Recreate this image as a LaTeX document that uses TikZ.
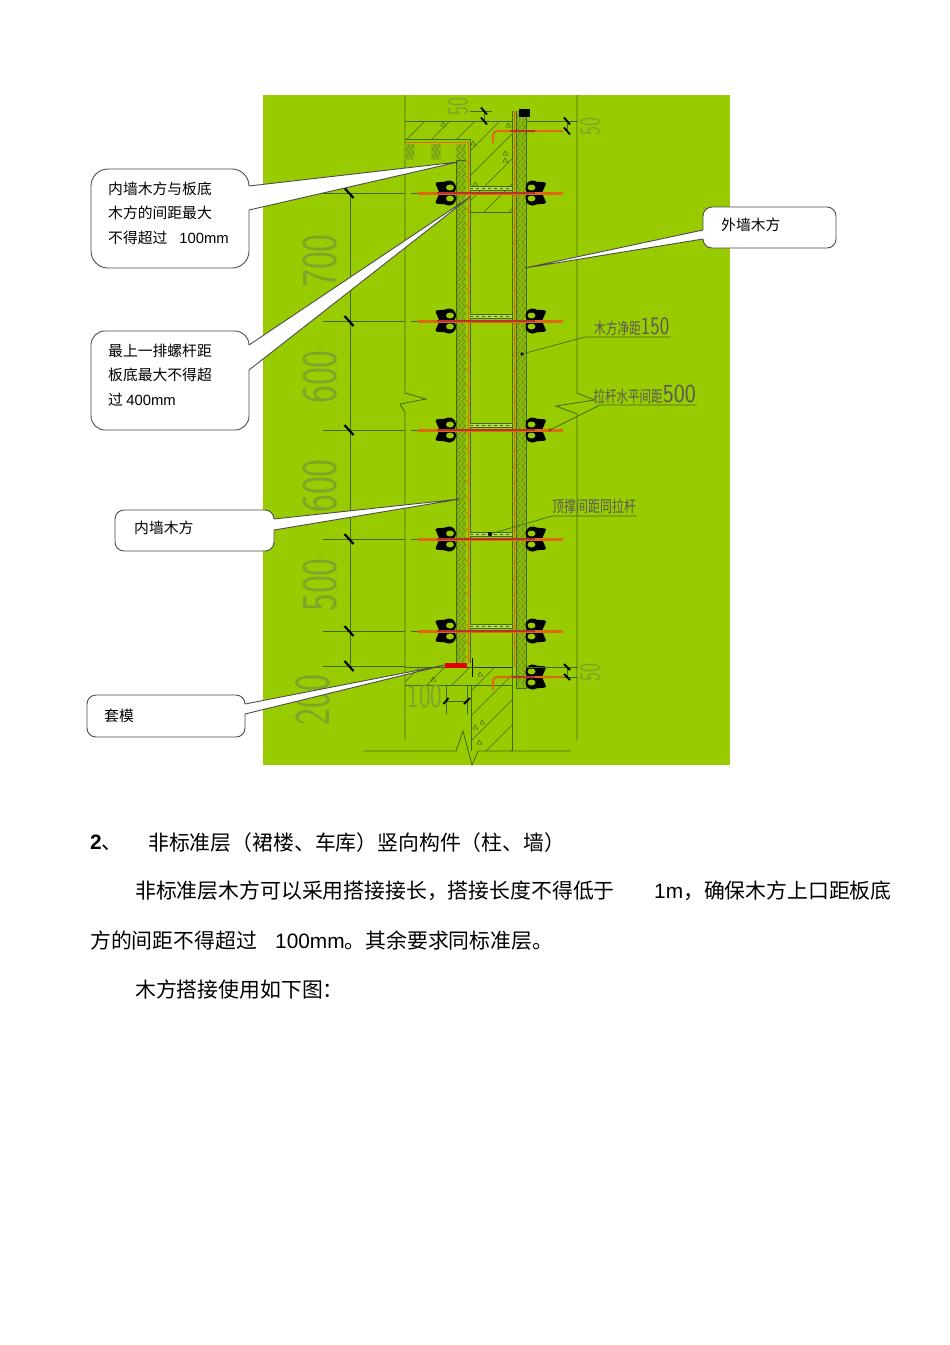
\documentclass[tikz,border=0pt]{standalone}
\usepackage{fontspec}
\setmainfont{Noto Sans CJK SC}
\newfontfamily\latinfont{Liberation Sans}
\usepackage{tikz}
\usetikzlibrary{calc}
\usetikzlibrary{positioning,decorations.pathmorphing}
\definecolor{boardgreen}{HTML}{99CC00}
\definecolor{woodgreen}{HTML}{8CBA0A}
\definecolor{woodline}{HTML}{4F7F14}
\definecolor{cadline}{HTML}{3E6A14}
\definecolor{dimtext}{HTML}{7CA52C}
\definecolor{rodorange}{HTML}{DE6A14}
\definecolor{rodred}{HTML}{B8322A}
\tikzset{
    cad/.style={draw=cadline,line width=0.8pt},
    woodzig/.style={draw=woodline,line width=0.4pt,decorate,decoration={zigzag,segment length=7pt,amplitude=2pt}},
    hatchline/.style={draw=cadline,line width=0.5pt},
    panel/.style={draw=rodorange,line width=1pt},
    tick/.style={draw=black,line width=2.2pt},
    callout/.style={draw=black!70,line width=0.9pt,fill=white},
    calloutlabel/.style={anchor=west,inner sep=0pt,align=left,font=\fontsize{14.8}{24.6}\selectfont},
    bodyline/.style={anchor=west,inner sep=0pt,font=\fontsize{20.85}{24}\selectfont},
    cadnote/.style={anchor=west,inner sep=0pt,text=black!65,font=\fontsize{16}{18}\selectfont}
}
\newcommand{\lt}[1]{{\latinfont #1}}
\newcommand{\dimtxt}[3]{\fontsize{#1}{#1}\selectfont\sffamily\scalebox{#2}[1]{#3}}
% x1 is the side that carries the tail
\newcommand{\callbox}[8]{
    \draw[callout,rounded corners=#1] (#2,#3) rectangle (#4,#5);
    \fill[white] (#2,#6) -- (#8) -- (#2,#7) -- cycle;
    \draw[white,line width=1.6pt] (#2,#6) -- (#2,#7);
    \draw[draw=black!70,line width=0.9pt] (#2,#6) -- (#8) -- (#2,#7);
}
\newcommand{\wingnut}[3]{
    \begin{scope}[shift={(#1,#2)},xscale=#3]
        \fill[black] (7,-5.5) circle (7) (7,5.5) circle (7);
        \fill[black,rounded corners=1.5pt] (9,-11.5) -- (21,-10.5) -- (16.5,0) -- (21,10.5) -- (9,11.5) -- cycle;
        \fill[boardgreen] (6,-5.5) ellipse (4 and 3) (6,5.5) ellipse (4 and 3);
    \end{scope}
}
\begin{document}
\begin{tikzpicture}[x=1pt,y=-1pt]
    \useasboundingbox (0,0) rectangle (950,1345);
    \fill[boardgreen] (263,95) rectangle (730,765);
    % outer walls with break marks
    \draw[cad] (405,95) -- (405,393) -- (426,399) -- (400,404) -- (405,412) -- (405,740);
    \draw[cad] (577,95) -- (577,393) -- (595,400) -- (556,406) -- (577,414) -- (577,740);
    \draw[cad] (364,751) -- (456,751) -- (463,731) -- (472,765) -- (478,751) -- (571,751);
    % concrete top
    \begin{scope}
        \clip (405,121) -- (512,121) -- (512,212) -- (470,212) -- (470,139) -- (405,139) -- cycle;
        \foreach \hx in {400,425,...,600}
            \draw[hatchline] (\hx,121) -- ++(-100,100);
    \end{scope}
    \draw[cad] (405,121) -- (512,121);
    \draw[cad] (405,139) -- (470,139) -- (470,212) -- (512,212);
    \foreach \tx/\ty in {443/122,473/141,505/151,505/158,475/182,508/123}
        \draw[cadline,line width=0.5pt] (\tx,\ty) -- ++(3,4) -- ++(-5,0) -- cycle;
    % concrete bottom
    \begin{scope}
        \clip (405,667) -- (512,667) -- (512,751) -- (471,751) -- (471,685) -- (405,685) -- cycle;
        \foreach \hx in {420,445,...,620}
            \draw[hatchline] (\hx,667) -- ++(-100,100);
    \end{scope}
    \draw[cad] (405,667) -- (512,667);
    \draw[cad] (405,685) -- (512,685);
    \draw[cad] (471,685) -- (471,751);
    \draw[cad] (512,667) -- (512,751);
    \foreach \tx/\ty in {433/677,480/672,482/720,479/740,475/725}
        \draw[cadline,line width=0.5pt] (\tx,\ty) -- ++(3,4) -- ++(-5,0) -- cycle;
    % formwork wood
    \fill[woodgreen] (456,144) rectangle (466,663);
    \fill[woodgreen] (516,111) rectangle (526,688);
    \fill[woodgreen] (405,144) rectangle (415,160);
    \fill[woodgreen] (431,144) rectangle (441,160);
    \foreach \wx in {458.5,463.5} \draw[woodzig] (\wx,144) -- (\wx,663);
    \foreach \wx in {518.5,523.5} \draw[woodzig] (\wx,111) -- (\wx,688);
    \foreach \wx in {408,412,434,438} \draw[woodzig] (\wx,144) -- (\wx,160);
    \draw[cad] (456,160) -- (456,663);
    \draw[cad] (456,160) -- (466,160);
    \draw[cad] (526,111) -- (526,688) -- (516,688);
    % panels
    \draw[panel] (405,142) -- (468,142) -- (468,663);
    \draw[panel] (514,111) -- (514,667);
    \draw[cad] (470,139) -- (470,663);
    \draw[cad] (512,111) -- (512,667);
    \draw[cad] (516,111) -- (516,688);
    \foreach \py in {160,176,...,656} {
        \draw[rodorange,line width=0.7pt] (466,\py) -- (470,\py+5);
    }
    \foreach \py in {118,134,...,660} {
        \draw[rodorange,line width=0.7pt] (512,\py) -- (516,\py-5);
    }
    \fill[black] (519,109) rectangle (530,117);
    % tie rods
    \foreach \ry in {193,321,430,539,631} {
        \fill[boardgreen!70!white] (470,\ry-7) rectangle (512,\ry-3);
        \draw[cadline,line width=0.5pt,dashed] (470,\ry-5) -- (512,\ry-5);
        \draw[cadline,line width=0.5pt] (470,\ry-7) -- (512,\ry-7) (470,\ry-3) -- (512,\ry-3);
        \wingnut{456}{\ry}{-1}
        \wingnut{525.5}{\ry}{1}
        \draw[cadline,line width=0.5pt] (411,\ry) -- (418,\ry);
        \draw[rodorange,line width=3pt] (418,\ry) -- (563,\ry);
        \draw[rodred,line width=2.6pt] (437,\ry) -- (535,\ry);
    }
    \wingnut{525.5}{677}{1}
    % anchor bars
    \draw[rodorange,line width=2pt,rounded corners=4pt] (493,143) -- (493,131) -- (563,131);
    \draw[rodorange,line width=2pt,rounded corners=4pt] (493,690) -- (493,677) -- (563,677);
    \draw[rodred,line width=1.6pt] (512,677) -- (535,677);
    \draw[rodred,line width=1.6pt] (510,131) -- (535,131);
    \fill[red!90!black] (445,663) rectangle (467,667.5);
    \draw[black,line width=0.8pt] (472,658) -- (472,677);
    \draw[black!80,line width=0.8pt] (472,667) -- (512,667);
    % dimensions
    \draw[cad] (350,193) -- (350,666);
    \foreach \dy in {193,321,430,539,631,666} {
        \draw[cad] (323,\dy) -- (405,\dy);
        \draw[tick] (344.5,\dy-5) -- (353.5,\dy+5);
    }
    \node[rotate=90,inner sep=0pt,text=dimtext] (dimA) at (320,261) {\dimtxt{50}{.76}{700}};
    \node[rotate=90,inner sep=0pt,text=dimtext] (dimB) at (320,377) {\dimtxt{50}{.76}{600}};
    \node[rotate=90,inner sep=0pt,text=dimtext] (dimC) at (320,486) {\dimtxt{50}{.76}{600}};
    \node[rotate=90,inner sep=0pt,text=dimtext] (dimD) at (320,585) {\dimtxt{50}{.76}{500}};
    \node[rotate=90,inner sep=0pt,text=dimtext] (dimE) at (313,700) {\dimtxt{50}{.72}{200}};
    \node[inner sep=0pt,text=dimtext] (dimF) at (425,696) {\dimtxt{34}{.72}{100}};
    \node[rotate=90,inner sep=0pt,text=dimtext] (dimG) at (458,106) {\dimtxt{29}{.66}{50}};
    \node[rotate=90,inner sep=0pt,text=dimtext] (dimH) at (590,126) {\dimtxt{29}{.66}{50}};
    \node[rotate=90,inner sep=0pt,text=dimtext] (dimI) at (590,672) {\dimtxt{29}{.66}{50}};
    \draw[cad] (470,111) -- (492,111);
    \draw[cad] (484,111) -- (484,121);
    \draw[tick,line width=1.8pt] (481,107.5) -- (487,114.5);
    \draw[tick,line width=1.8pt] (481,117.5) -- (487,124.5);
    \draw[cad] (526,121) -- (578,121);
    \draw[cad] (567,121) -- (567,131);
    \draw[tick,line width=1.8pt] (564,117.5) -- (570,124.5);
    \draw[tick,line width=1.8pt] (564,127.5) -- (570,134.5);
    \draw[cad] (526,667) -- (578,667);
    \draw[cad] (563,677) -- (578,677);
    \draw[cad] (567,667) -- (567,677);
    \draw[tick,line width=1.8pt] (564,664) -- (570,670);
    \draw[tick,line width=1.8pt] (564,674) -- (570,680);
    \draw[cad] (446,685) -- (446,714);
    \draw[cad] (467,685) -- (467,714);
    \draw[cad] (446,701) -- (467,701);
    \draw[tick,line width=1.8pt] (443.5,704) -- (448.5,698);
    \draw[tick,line width=1.8pt] (464,704) -- (470,698);
    % notes on the drawing
    \node[cadnote,minimum width=77pt] (jingju) at (593,327) {\scalebox{.73}[1]{木方净距}\lt{\dimtxt{25}{.8}{150}}};
    \node[cadnote,minimum width=103pt] (lagan) at (593,394) {\scalebox{.72}[1]{拉杆水平间距}\lt{\dimtxt{26}{.9}{500}}};
    \node[cadnote,minimum width=84pt] (dingcheng) at (552,506) {\scalebox{.75}[1]{顶撑间距同拉杆}};
    \coordinate (jingjuend) at (522,354);
    \coordinate (laganend) at (550,430);
    \coordinate (dingchengend) at (490,534);
    \fill[black] (jingjuend) circle (1.8);
    \fill[black] (dingchengend) circle (2.2);
    \fill[rodred] (laganend) circle (1.8);
    \draw[cadline,line width=0.7pt] (jingjuend) -- ($(jingju.west)+(-8,10)$) -- ($(jingju.east)+(0,10)$);
    \draw[cadline,line width=0.7pt] (laganend) -- ($(lagan.west)+(7,11)$) -- ($(lagan.east)+(0,11)$);
    \draw[cadline,line width=0.7pt] (dingchengend) -- ($(dingcheng.west)+(0,10)$) -- ($(dingcheng.east)+(0,10)$);
    % callouts
    \coordinate (tipbandi) at (458,162);
    \coordinate (tipluogan) at (470,197);
    \coordinate (tipwaiqiang) at (525,268);
    \coordinate (tipneiqiang) at (460,499);
    \coordinate (tiptaomo) at (445,665);
    \callbox{17pt}{249}{169}{91}{268}{186}{210}{tipbandi}
    \callbox{14pt}{249}{331}{91}{430}{345}{370}{tipluogan}
    \callbox{9pt}{703}{207}{836}{248}{230}{239}{tipwaiqiang}
    \callbox{9pt}{274}{510}{115}{551}{519}{530}{tipneiqiang}
    \callbox{9pt}{245}{695}{87}{737}{704}{714}{tiptaomo}
    \node[calloutlabel] (bandi) at (108,213) {内墙木方与板底\\木方的间距最大\\不得超过\hspace{12pt}\lt{100mm}};
    \node[calloutlabel] (luogan) at (108,375) {最上一排螺杆距\\板底最大不得超\\过 \lt{400mm}};
    \node[calloutlabel] (waiqiang) at (721,225) {外墙木方};
    \node[calloutlabel] (neiqiang) at (134,528) {内墙木方};
    \node[calloutlabel] (taomo) at (104,716) {套模};
    % body text
    \node[bodyline] (headnum) at (90,843) {\lt{\textbf{2}}、};
    \node[bodyline] (headtxt) at (148,843) {非标准层（裙楼、车库）竖向构件（柱、墙）};
    \node[bodyline] (lineAa) at (135,891) {非标准层木方可以采用搭接接长，搭接长度不得低于};
    \node[bodyline] (lineAb) at (654,891) {\lt{1m}，确保木方上口距板底};
    \node[bodyline] (lineBa) at (90,941) {方的间距不得超过};
    \node[bodyline] (lineBb) at (275,941) {\lt{100mm}。其余要求同标准层。};
    \node[bodyline] (lineC) at (135,990) {木方搭接使用如下图：};
\end{tikzpicture}
\end{document}
